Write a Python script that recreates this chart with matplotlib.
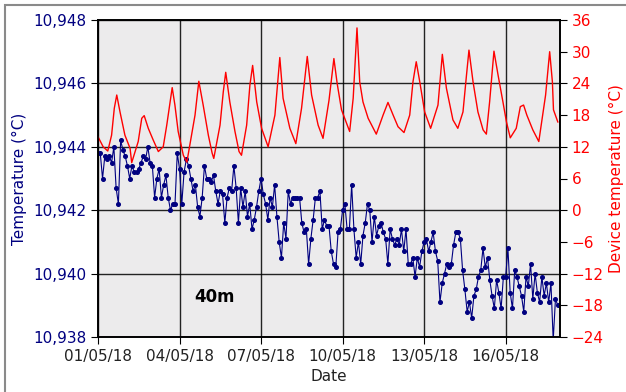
import numpy as np
import pandas as pd
import matplotlib
matplotlib.use("Agg")
import matplotlib.pyplot as plt
import matplotlib.dates as mdates
from matplotlib.patches import Rectangle
from matplotlib.ticker import FuncFormatter, MultipleLocator

# -------------------------
# Data
# -------------------------
# Water temperature at 40 m, one reading every 2 hours from 01/05/18 00:00
temp_40m = [
    10.9438, 10.9438, 10.9430, 10.9437, 10.9436, 10.9437, 10.9435, 10.9440, 10.9427, 10.9422, 10.9442, 10.9439,
    10.9437, 10.9434, 10.9430, 10.9434, 10.9432, 10.9432, 10.9433, 10.9435, 10.9437, 10.9436, 10.9440, 10.9435,
    10.9434, 10.9424, 10.9430, 10.9433, 10.9424, 10.9428, 10.9431, 10.9424, 10.9420, 10.9422, 10.9422, 10.9438,
    10.9433, 10.9422, 10.9432, 10.9436, 10.9434, 10.9430, 10.9426, 10.9428, 10.9421, 10.9418, 10.9424, 10.9434,
    10.9430, 10.9430, 10.9429, 10.9431, 10.9426, 10.9422, 10.9426, 10.9425, 10.9416, 10.9424, 10.9427, 10.9426,
    10.9434, 10.9427, 10.9416, 10.9427, 10.9421, 10.9426, 10.9418, 10.9422, 10.9414, 10.9417, 10.9421, 10.9426,
    10.9430, 10.9425, 10.9422, 10.9417, 10.9424, 10.9421, 10.9428, 10.9418, 10.9410, 10.9405, 10.9416, 10.9411,
    10.9426, 10.9422, 10.9424, 10.9424, 10.9424, 10.9424, 10.9416, 10.9413, 10.9414, 10.9403, 10.9411, 10.9417,
    10.9424, 10.9424, 10.9426, 10.9414, 10.9417, 10.9415, 10.9415, 10.9407, 10.9403, 10.9402, 10.9413, 10.9414,
    10.9420, 10.9422, 10.9414, 10.9414, 10.9428, 10.9414, 10.9405, 10.9410, 10.9403, 10.9412, 10.9416, 10.9422,
    10.9420, 10.9410, 10.9418, 10.9412, 10.9415, 10.9416, 10.9413, 10.9411, 10.9403, 10.9414, 10.9411, 10.9409,
    10.9411, 10.9409, 10.9414, 10.9407, 10.9414, 10.9403, 10.9403, 10.9405, 10.9399, 10.9405, 10.9402, 10.9407,
    10.9410, 10.9411, 10.9407, 10.9410, 10.9413, 10.9407, 10.9404, 10.9391, 10.9397, 10.9400, 10.9403, 10.9402,
    10.9403, 10.9409, 10.9413, 10.9413, 10.9411, 10.9401, 10.9395, 10.9388, 10.9391, 10.9386, 10.9393, 10.9395,
    10.9399, 10.9401, 10.9408, 10.9402, 10.9405, 10.9398, 10.9393, 10.9389, 10.9398, 10.9394, 10.9389, 10.9399,
    10.9399, 10.9408, 10.9394, 10.9389, 10.9401, 10.9399, 10.9396, 10.9393, 10.9388, 10.9399, 10.9396, 10.9403,
    10.9392, 10.9400, 10.9394, 10.9391, 10.9399, 10.9393, 10.9397, 10.9391, 10.9397, 10.9379, 10.9392, 10.9390,
]

# Device temperature: days since 01/05/18 00:00 and value (°C)
dev_days = [
    0.00, 0.19, 0.36, 0.50, 0.60, 0.69, 0.81, 0.99, 1.18, 1.24,
    1.48, 1.61, 1.70, 1.85, 2.03, 2.22, 2.40, 2.53, 2.73, 2.83,
    2.95, 3.14, 3.27, 3.57, 3.71, 3.87, 4.06, 4.20, 4.26, 4.49,
    4.61, 4.70, 4.85, 5.04, 5.19, 5.28, 5.47, 5.59, 5.69, 5.84,
    6.02, 6.26, 6.51, 6.69, 6.81, 7.06, 7.28, 7.49, 7.70, 7.86,
    8.10, 8.28, 8.50, 8.68, 8.80, 8.96, 9.26, 9.39, 9.53, 9.63,
    9.75, 9.94, 10.24, 10.49, 10.67, 10.86, 11.04, 11.26, 11.47, 11.59,
    11.71, 11.84, 12.02, 12.24, 12.51, 12.67, 12.82, 13.06, 13.24, 13.43,
    13.56, 13.65, 13.80, 13.98, 14.17, 14.29, 14.41, 14.57, 14.72, 14.90,
    15.03, 15.17, 15.39, 15.54, 15.66, 15.78, 16.00, 16.22, 16.47, 16.62,
    16.72, 16.76, 16.92,
]
dev_temp = [
    13.9, 12.0, 11.2, 14.2, 19.3, 21.8, 18.6, 14.2, 11.7, 9.0,
    13.0, 17.4, 17.9, 15.5, 13.3, 11.1, 12.0, 16.1, 23.2, 19.9,
    14.9, 10.4, 9.1, 18.0, 24.4, 19.9, 14.2, 10.8, 9.8, 16.1,
    22.4, 26.1, 20.5, 14.9, 11.1, 10.4, 16.1, 23.7, 27.4, 20.5,
    15.5, 12.0, 18.0, 28.9, 21.2, 15.5, 12.6, 19.3, 29.1, 21.8,
    16.1, 13.6, 20.8, 28.7, 24.0, 19.0, 14.9, 21.2, 34.5, 24.3,
    20.5, 17.4, 14.4, 18.0, 20.4, 18.0, 15.8, 14.7, 18.0, 24.3,
    28.1, 24.3, 18.6, 15.5, 19.9, 29.5, 23.1, 17.1, 15.5, 18.6,
    25.6, 30.3, 24.3, 18.6, 15.2, 14.4, 20.5, 30.1, 25.6, 20.5,
    16.7, 13.7, 15.5, 19.6, 19.9, 18.0, 15.2, 13.0, 21.8, 30.0,
    24.3, 19.0, 16.7,
]

start = pd.Timestamp("2018-05-01")
t_40m = pd.date_range(start, periods=len(temp_40m), freq="2h")
t_dev = start + pd.to_timedelta(dev_days, unit="D")

# -------------------------
# Figure
# -------------------------
fig = plt.figure(figsize=(6.26, 3.92), dpi=100)
ax = fig.add_axes([98 / 626, 1 - 337 / 392, 462 / 626, 317 / 392])
ax.set_facecolor("#ecebec")

ax.plot(t_40m, temp_40m, "-o", color="navy", lw=0.8, ms=2.6)
ax.set_ylim(10.938, 10.948)
ax.yaxis.set_major_locator(MultipleLocator(0.002))
ax.yaxis.set_major_formatter(FuncFormatter(lambda v, p: f"{v:.3f}".replace(".", ",")))
ax.set_xlim(start, pd.Timestamp("2018-05-18"))
ax.xaxis.set_major_locator(mdates.DayLocator(bymonthday=[1, 4, 7, 10, 13, 16]))
ax.xaxis.set_major_formatter(mdates.DateFormatter("%d/%m/%y"))
ax.grid(True, color="black", lw=1.0, alpha=0.85)
ax.tick_params(axis="y", labelcolor="navy", labelsize=11, length=5)
ax.tick_params(axis="x", labelcolor="#222222", labelsize=11, length=5)
ax.set_ylabel("Temperature (°C)", color="navy", fontsize=11)
ax.set_xlabel("Date", color="#222222", fontsize=11)
ax.text(start + pd.Timedelta(hours=103), 10.93926, "40m", fontsize=12,
        fontweight="bold", ha="center", va="center")

ax2 = ax.twinx()
ax2.plot(t_dev, dev_temp, color="red", lw=1.0)
ax2.set_ylim(-24, 36)
ax2.yaxis.set_major_locator(MultipleLocator(6))
ax2.tick_params(axis="y", labelcolor="red", labelsize=11, length=5)
ax2.set_ylabel("Device temperature (°C)", color="red", fontsize=11)

for a in (ax, ax2):
    for s in a.spines.values():
        s.set_linewidth(1.2)

# grey frame around the picture
fig.patches.append(Rectangle((5 / 626, -0.02), 1.0, 1 - 5 / 392 + 0.02, fill=False,
                             edgecolor="#8a8a8a", lw=1.5, transform=fig.transFigure))

fig.savefig("out.png", dpi=100)
